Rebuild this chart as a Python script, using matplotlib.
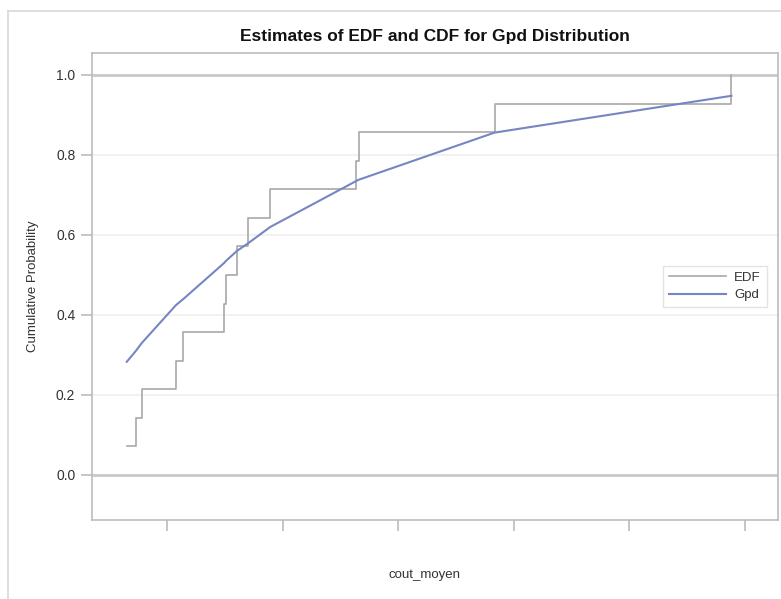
import numpy as np
import matplotlib
matplotlib.use("Agg")
import matplotlib.pyplot as plt
from matplotlib.lines import Line2D

plt.rcParams['font.family'] = ['Liberation Sans', 'DejaVu Sans']

# observed cout_moyen values (axis units, tick labels hidden in the source)
cout_moyen = [0.651, 0.729, 0.781, 1.078, 1.141, 1.494, 1.509,
              1.604, 1.705, 1.893, 2.638, 2.658, 3.836, 5.887]
n = len(cout_moyen)
edf = [(i + 1) / n for i in range(n)]
# fitted Gpd CDF at the observations
gpd_cdf = [0.283, 0.310, 0.330, 0.425, 0.440, 0.530, 0.535,
           0.560, 0.580, 0.620, 0.735, 0.738, 0.856, 0.948]
x_ticks = [1, 2, 3, 4, 5, 6]
y_ticks = [0.0, 0.2, 0.4, 0.6, 0.8, 1.0]

fig = plt.figure(figsize=(7.81, 5.99), dpi=100)
ax = fig.add_axes([92 / 781, 1 - 520 / 599, 686 / 781, 467 / 599])

# outer frame of the SAS graph
fig.add_artist(Line2D([8 / 781, 8 / 781], [0, 1 - 11 / 599], color='#d8d8d8', lw=1.2))
fig.add_artist(Line2D([8 / 781, 1], [1 - 11 / 599, 1 - 11 / 599], color='#d8d8d8', lw=1.2))

for y in [0.2, 0.4, 0.6, 0.8]:
    ax.axhline(y, color='#efefef', lw=1.2, zorder=0)
for y in [0.0, 1.0]:
    ax.axhline(y, color='#c8c8c8', lw=2.0, zorder=1)

ax.plot(cout_moyen, edf, drawstyle='steps-post', color='#a8a8a8', lw=1.2, label='EDF', zorder=2)
ax.plot(cout_moyen, gpd_cdf, color='#7686c2', lw=1.5, label='Gpd', zorder=3)

ax.set_xlim(0.35, 6.29)
ax.set_ylim(-0.1125, 1.055)
ax.set_xticks(x_ticks)
ax.set_xticklabels([])
ax.set_yticks(y_ticks)
ax.set_yticklabels([f"{v:.1f}" for v in y_ticks])

for s in ax.spines.values():
    s.set_color('#bcbcbc')
    s.set_linewidth(1.2)
ax.tick_params(colors='#bcbcbc', labelcolor='#333333', labelsize=10, length=8, width=1.2, pad=4)

ax.set_title("Estimates of EDF and CDF for Gpd Distribution", fontsize=12.5,
             fontweight='bold', color='#111111', pad=9)
ax.set_xlabel("cout_moyen", fontsize=9.5, color='#333333', labelpad=20)
ax.xaxis.set_label_coords(0.485, -0.105)
ax.set_ylabel("Cumulative Probability", fontsize=9.5, color='#333333', labelpad=12)

leg = ax.legend(loc='center right', fontsize=9.5, frameon=True, fancybox=False,
                handlelength=4.3, handletextpad=0.6, borderpad=0.45, labelspacing=0.4,
                bbox_to_anchor=(0.993, 0.5))
leg.get_frame().set_edgecolor('#dddddd')
leg.get_frame().set_linewidth(1.0)
for t in leg.get_texts():
    t.set_color('#333333')

fig.savefig("out.png", dpi=100)
